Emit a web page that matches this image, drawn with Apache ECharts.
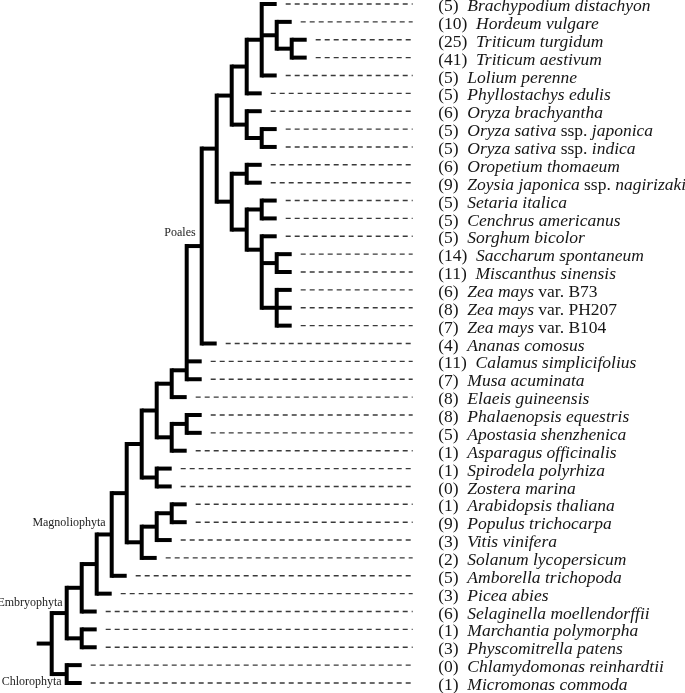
<!DOCTYPE html>
<html>
<head>
<meta charset="utf-8">
<script src="https://cdn.jsdelivr.net/npm/echarts@6/dist/echarts.min.js"></script>
<style>
html,body{margin:0;padding:0;background:#fff;}
#chart{width:685px;height:693px;}
</style>
</head>
<body>
<div id="chart"></div>
<script>
// ---------------- DATA ----------------
const speciesNames = [
  'Brachypodium distachyon', 'Hordeum vulgare', 'Triticum turgidum', 'Triticum aestivum',
  'Lolium perenne', 'Phyllostachys edulis', 'Oryza brachyantha', 'Oryza sativa ssp. japonica',
  'Oryza sativa ssp. indica', 'Oropetium thomaeum', 'Zoysia japonica ssp. nagirizaki',
  'Setaria italica', 'Cenchrus americanus', 'Sorghum bicolor', 'Saccharum spontaneum',
  'Miscanthus sinensis', 'Zea mays var. B73', 'Zea mays var. PH207', 'Zea mays var. B104',
  'Ananas comosus', 'Calamus simplicifolius', 'Musa acuminata', 'Elaeis guineensis',
  'Phalaenopsis equestris', 'Apostasia shenzhenica', 'Asparagus officinalis',
  'Spirodela polyrhiza', 'Zostera marina', 'Arabidopsis thaliana', 'Populus trichocarpa',
  'Vitis vinifera', 'Solanum lycopersicum', 'Amborella trichopoda', 'Picea abies',
  'Selaginella moellendorffii', 'Marchantia polymorpha', 'Physcomitrella patens',
  'Chlamydomonas reinhardtii', 'Micromonas commoda'
];
const geneCounts = [5,10,25,41,5,5,6,5,5,6,9,5,5,5,14,11,6,8,7,4,11,7,8,8,5,1,1,0,1,9,3,2,5,3,6,1,3,0,1];

// Tree topology: numbers are leaf indices (rows); arrays are clades;
// objects carry a clade name and/or which two children the stem joins between.
const poalesClade = {clade: 'Poales', c: [
  [
    [[[0, [1, [2, 3]], 4], 5], [6, [7, 8]]],
    [[9, 10], [[11, 12], {c: [13, [14, 15], [16, 17, 18]], mid: [0, 1]}]]
  ],
  19
]};
const monocotClade = [
  [
    [{c: [poalesClade, 20, 21], mid: [1, 2]}, 22],
    [[23, 24], 25]
  ],
  [26, 27]
];
const eudicotClade = [[[28, 29], 30], 31];
const treeTopology = {c: [
  {clade: 'Embryophyta', c: [
    [[{clade: 'Magnoliophyta', c: [[monocotClade, eudicotClade], 32]}, 33], 34],
    [35, 36]
  ]},
  {clade: 'Chlorophyta', c: [37, 38]}
]};

// ---------------- LAYOUT (from topology) ----------------
const treeSegments = [];   // [x0, y0, x1, y1, isVertical]
const leafTips = [];       // [x, row]
const cladeNodes = [];     // [x, y, name]
function layout(node, depth, parentDepth) {
  if (typeof node === 'number') {
    treeSegments.push([parentDepth, node, depth, node, 0]);
    leafTips.push([depth, node]);
    return node;
  }
  const children = Array.isArray(node) ? node : node.c;
  const ys = children.map(ch => layout(ch, depth + 1, depth));
  treeSegments.push([depth, Math.min(...ys), depth, Math.max(...ys), 1]);
  const m = (!Array.isArray(node) && node.mid) ? node.mid : [0, ys.length - 1];
  const y = (ys[m[0]] + ys[m[1]]) / 2;
  treeSegments.push([parentDepth, y, depth, y, 0]);
  if (!Array.isArray(node) && node.clade) cladeNodes.push([depth, y, node.clade]);
  return y;
}
layout(treeTopology, 1, 0);

// ---------------- STYLE ----------------
const X_MAX = 25;
const FONT = 'Liberation Serif';
const LABEL_SIZE = 17.5;
const cladeLabelOffsets = {
  'Poales': [-6, -13],
  'Magnoliophyta': [-6, -12],
  'Embryophyta': [-4, -10],
  'Chlorophyta': [-5, 8]
};

function richLabel(count, name) {
  const toks = name.split(' ');
  let out = '{n|(' + count + ')\u00a0\u00a0}';
  let cur = null, buf = [];
  const flush = () => { if (buf.length) out += '{' + cur + '|' + buf.join(' ') + '}'; buf = []; };
  toks.forEach((t) => {
    const normal = /^(ssp\.|var\.)$/.test(t) || /^[A-Z0-9]+$/.test(t);
    const s = normal ? 'n' : 'i';
    if (s !== cur) { flush(); if (cur !== null) buf.push(''); cur = s; }
    buf.push(t);
  });
  flush();
  return out;
}

const chart = echarts.init(document.getElementById('chart'), null, {renderer: 'canvas'});
chart.setOption({
  animation: false,
  backgroundColor: '#fff',
  grid: {left: 36.7, width: 375, top: 4, bottom: 10, containLabel: false},
  xAxis: {type: 'value', min: 0, max: X_MAX, show: false},
  yAxis: {type: 'value', min: 0, max: speciesNames.length - 1, inverse: true, show: false},
  series: [
    {
      type: 'custom', name: 'leaders', silent: true, clip: false,
      data: leafTips,
      encode: {x: 0, y: 1},
      renderItem: (params, api) => {
        const a = api.coord([api.value(0), api.value(1)]);
        const b = api.coord([X_MAX, api.value(1)]);
        return {type: 'line', shape: {x1: a[0] + 9, y1: a[1], x2: b[0] + 1, y2: b[1]},
          style: {stroke: '#3a3a3a', lineWidth: 1.4, lineDash: [5, 4]}};
      }
    },
    {
      type: 'custom', name: 'tree', silent: true, clip: false,
      data: treeSegments,
      encode: {x: [0, 2], y: [1, 3]},
      renderItem: (params, api) => {
        const a = api.coord([api.value(0), api.value(1)]);
        const b = api.coord([api.value(2), api.value(3)]);
        return {type: 'line', shape: {x1: a[0], y1: a[1], x2: b[0], y2: b[1]},
          style: {stroke: '#000', lineWidth: 4, lineCap: api.value(4) === 1 ? 'square' : 'butt'}};
      }
    },
    {
      type: 'custom', name: 'species', silent: true, clip: false,
      data: leafTips.map(t => [X_MAX, t[1]]),
      encode: {x: 0, y: 1},
      renderItem: (params, api) => {
        const row = api.value(1);
        const p = api.coord([X_MAX, row]);
        return {type: 'text', x: p[0] + 26.5, y: p[1] + 2.5,
          style: {
            text: richLabel(geneCounts[row], speciesNames[row]),
            fill: '#151515', fontFamily: FONT, fontSize: LABEL_SIZE,
            align: 'left', verticalAlign: 'middle',
            rich: {
              n: {fontFamily: FONT, fontSize: LABEL_SIZE, fontStyle: 'normal', fill: '#151515'},
              i: {fontFamily: FONT, fontSize: LABEL_SIZE, fontStyle: 'italic', fill: '#151515'}
            }
          }};
      }
    },
    {
      type: 'custom', name: 'clades', silent: true, clip: false,
      data: cladeNodes.map(c => [c[0], c[1]]),
      encode: {x: 0, y: 1},
      renderItem: (params, api) => {
        const name = cladeNodes[params.dataIndex][2];
        const off = cladeLabelOffsets[name];
        const p = api.coord([api.value(0), api.value(1)]);
        return {type: 'text', x: p[0] + off[0], y: p[1] + off[1],
          style: {text: name, fill: '#222', fontFamily: FONT, fontSize: 12,
            align: 'right', verticalAlign: 'middle'}};
      }
    }
  ]
});
</script>
</body>
</html>
